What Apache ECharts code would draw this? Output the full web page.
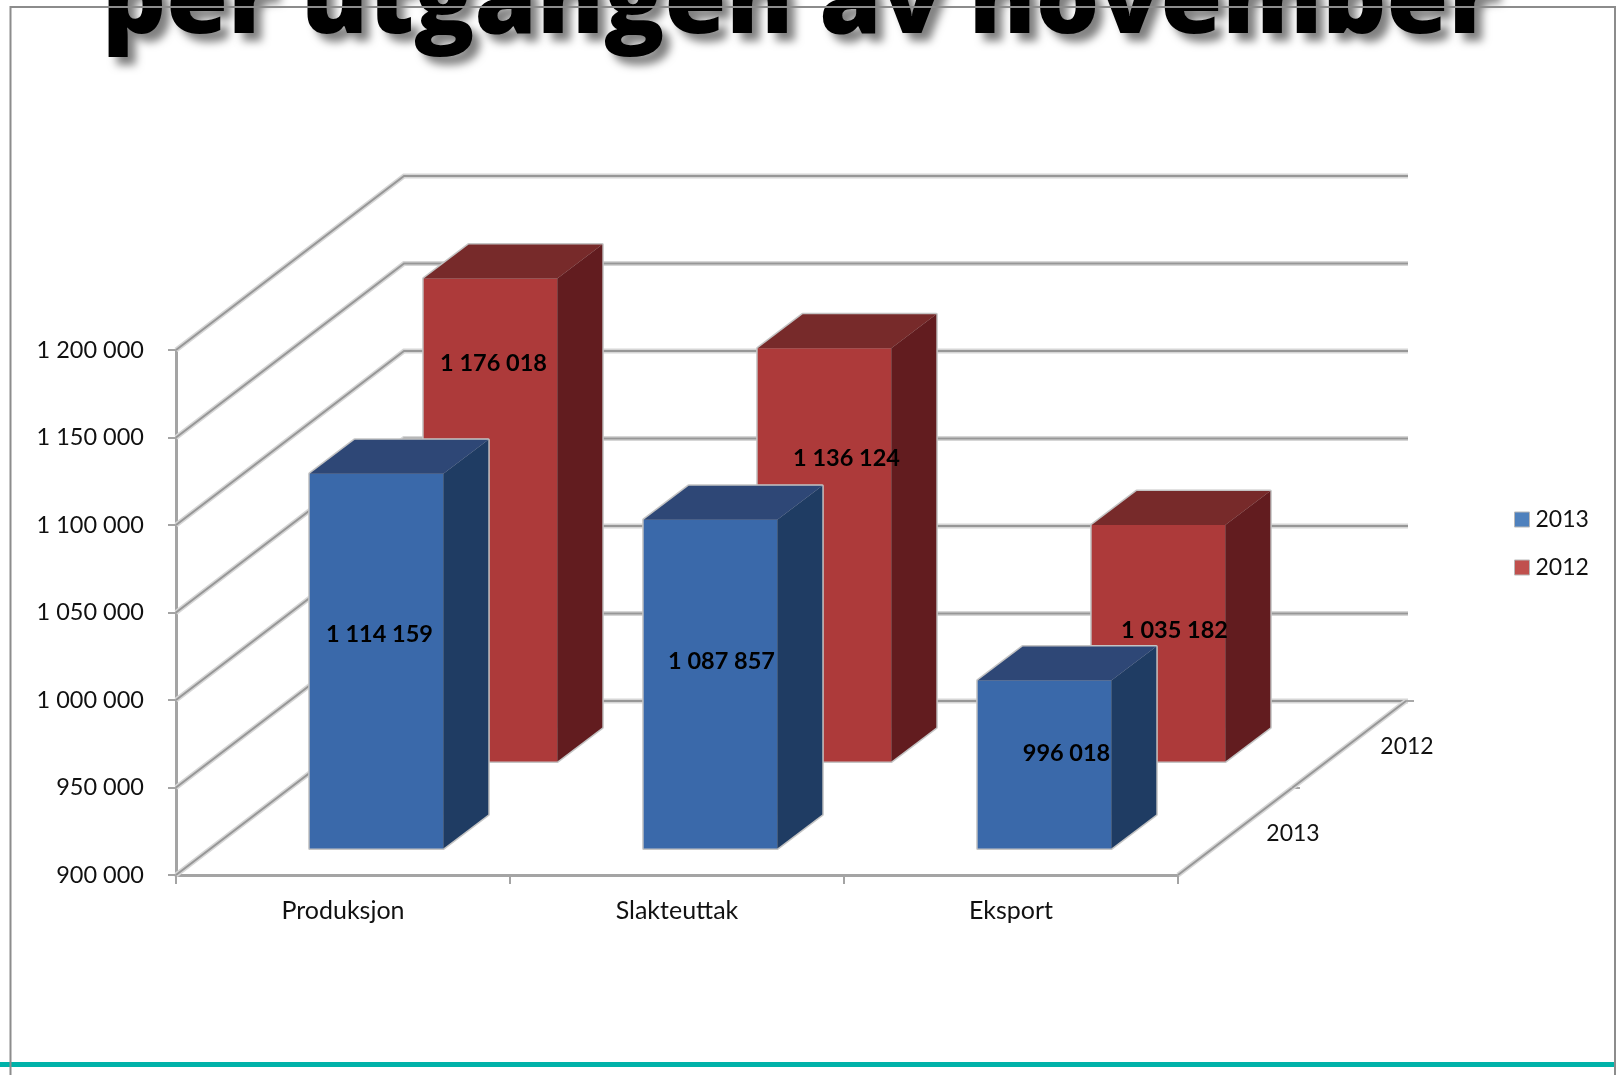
<!DOCTYPE html>
<html><head><meta charset="utf-8">
<style>html,body{margin:0;padding:0;background:#fff}#c{width:1617px;height:1075px}</style>
<script src="https://cdn.jsdelivr.net/npm/echarts@6/dist/echarts.min.js"></script>
</head><body><div id="c"></div>
<script>
const titleText = 'per utgangen av november';
const categories = ['Produksjon', 'Slakteuttak', 'Eksport'];
const values2013 = [1114159, 1087857, 996018];
const values2012 = [1176018, 1136124, 1035182];
const yTicks = [900000, 950000, 1000000, 1050000, 1100000, 1150000, 1200000];
const depthLabels = ['2013', '2012'];

// layout of the oblique projection (pixels)
const DX = 228, DY = -174;
const BAR_DX = 45, BAR_DY = -34, FACE = 0.4;
const FONT = 'Lato';
const labelNudge2013 = [[3, -27], [11, -23], [22, -11]];
const labelNudge2012 = [[3, -157], [22, -96], [16, -13]];
const fmt = v => String(v).replace(/\B(?=(\d{3})+$)/g, ' ');

function shape(type, points, style) {
  return { type, shape: { points }, style, silent: true };
}
function barRenderer(slot, colors, nudge) {
  return function (params, api) {
    const i = api.value(0), v = api.value(1);
    const top = api.coord([i, v]), base = api.coord([i, yTicks[0]]);
    const w = api.size([1, 0])[0] * FACE;
    const ox = DX * (slot + 0.5) / 2 - BAR_DX / 2 - 1, oy = DY * (slot + 0.5) / 2 - BAR_DY / 2;
    const l = top[0] + ox - w / 2, r = l + w, t = top[1] + oy, b = base[1] + oy;
    const out = [[l, b], [l, t], [l + BAR_DX, t + BAR_DY], [r + BAR_DX, t + BAR_DY], [r + BAR_DX, b + BAR_DY], [r, b]];
    return { type: 'group', children: [
      shape('polygon', out, { fill: '#c4c4c4', stroke: '#c4c4c4', lineWidth: 3, lineJoin: 'round' }),
      shape('polygon', [[l, t], [r, t], [r, b], [l, b]], { fill: colors[0] }),
      shape('polygon', [[r, t], [r + BAR_DX, t + BAR_DY], [r + BAR_DX, b + BAR_DY], [r, b]], { fill: colors[1] }),
      shape('polygon', [[l, t], [l + BAR_DX, t + BAR_DY], [r + BAR_DX, t + BAR_DY], [r, t]], { fill: colors[2] }),
      { type: 'text', z2: 50, silent: true, style: {
        text: fmt(v), x: (l + r) / 2 + nudge[i][0], y: (t + b) / 2 + nudge[i][1],
        align: 'center', verticalAlign: 'middle', fill: '#000', font: 'bold 23.5px ' + FONT } }
    ] };
  };
}
function wallRenderer(params, api) {
  const y = api.coord([0, api.value(1)])[1];
  const cs = params.coordSys, x0 = cs.x, x1 = cs.x + cs.width + 2;
  const pts = [[x0, y], [x0 + DX, y + DY], [x1 + DX, y + DY]];
  return { type: 'group', children: [
    shape('polyline', pts, { fill: null, stroke: '#d6d6d6', lineWidth: 5 }),
    shape('polyline', pts, { fill: null, stroke: '#979797', lineWidth: 2 })
  ] };
}
function depthRenderer(params, api) {
  const s = api.value(0);
  const cs = params.coordSys, x1 = cs.x + cs.width, y0 = cs.y + cs.height;
  const pts = [[x1 + DX * s / 2, y0 + DY * s / 2], [x1 + DX * (s + 1) / 2, y0 + DY * (s + 1) / 2]];
  const end = pts[1];
  return { type: 'group', children: [
    shape('polyline', pts, { fill: null, stroke: '#d6d6d6', lineWidth: 5 }),
    shape('polyline', pts, { fill: null, stroke: '#979797', lineWidth: 2 }),
    shape('polyline', [end, [end[0] + 8, end[1]]], { fill: null, stroke: '#a8a8a8', lineWidth: 2 }),
    { type: 'text', silent: true, style: {
      text: depthLabels[s], x: (pts[0][0] + pts[1][0]) / 2 + 58, y: (pts[0][1] + pts[1][1]) / 2 + 2,
      align: 'center', verticalAlign: 'middle', fill: '#111', font: '23px ' + FONT } }
  ] };
}
const chart = echarts.init(document.getElementById('c'), null, { renderer: 'canvas' });
chart.setOption({
  animation: false,
  backgroundColor: '#fff',
  title: {
    text: titleText, left: 97, top: -50,
    textStyle: { fontFamily: 'Open Sans', fontWeight: 800, fontSize: 100, color: '#000',
      textShadowColor: 'rgba(0,0,0,0.5)', textShadowBlur: 8, textShadowOffsetX: 8, textShadowOffsetY: 8 }
  },
  legend: {
    orient: 'vertical', left: 1509, top: 503, itemWidth: 15, itemHeight: 15, itemGap: 25,
    data: [{ name: '2013', icon: 'rect' }, { name: '2012', icon: 'rect' }],
    selectedMode: false,
    textStyle: { fontFamily: FONT, fontSize: 23, color: '#111', padding: [0, 0, 0, 1] },
    itemStyle: { borderColor: '#b8b8b8', borderWidth: 1 }
  },
  grid: { left: 176, top: 350, width: 1002, height: 525 },
  xAxis: {
    type: 'category', data: categories,
    axisLine: { lineStyle: { color: '#a4a4a4', width: 3 } },
    axisTick: { show: true, length: 9, lineStyle: { color: '#a4a4a4', width: 2 } },
    axisLabel: { fontFamily: FONT, fontSize: 25, color: '#111', margin: 23 }
  },
  yAxis: {
    type: 'value', min: 900000, max: 1200000, interval: 50000,
    axisLine: { show: true, lineStyle: { color: '#a4a4a4', width: 3 } },
    axisTick: { show: true, length: 8, lineStyle: { color: '#a4a4a4', width: 2 } },
    splitLine: { show: false },
    axisLabel: { fontFamily: FONT, fontSize: 23.5, color: '#111', margin: 32, formatter: fmt }
  },
  series: [
    { type: 'custom', name: 'walls', renderItem: wallRenderer, clip: false, silent: true, z: 1,
      data: yTicks.map(v => [0, v]), encode: { x: 0, y: 1 } },
    { type: 'custom', name: 'depth', renderItem: depthRenderer, clip: false, silent: true, z: 1,
      coordinateSystem: 'cartesian2d', data: depthLabels.map((d, s) => [s, yTicks[0]]), encode: { y: 1 } },
    { type: 'custom', name: '2012', renderItem: barRenderer(1, ['#ad3a3a', '#621c1f', '#772a2a'], labelNudge2012),
      clip: false, z: 2, itemStyle: { color: '#c0504d' },
      data: values2012.map((v, i) => [i, v]), encode: { x: 0, y: 1 } },
    { type: 'custom', name: '2013', renderItem: barRenderer(0, ['#3a69aa', '#1f3c63', '#2e4776'], labelNudge2013),
      clip: false, z: 3, itemStyle: { color: '#4f81bd' },
      data: values2013.map((v, i) => [i, v]), encode: { x: 0, y: 1 } }
  ],
  graphic: [
    { type: 'polyline', z: 100, silent: true, shape: { points: [[10.5, 1075], [10.5, 7], [1615, 7], [1615, 1075]] },
      style: { fill: null, stroke: '#8c8c8c', lineWidth: 2 } },
    { type: 'rect', z: 99, silent: true, shape: { x: 0, y: 1062, width: 1615, height: 5 }, style: { fill: '#00b2a9' } }
  ]
});
</script></body></html>
